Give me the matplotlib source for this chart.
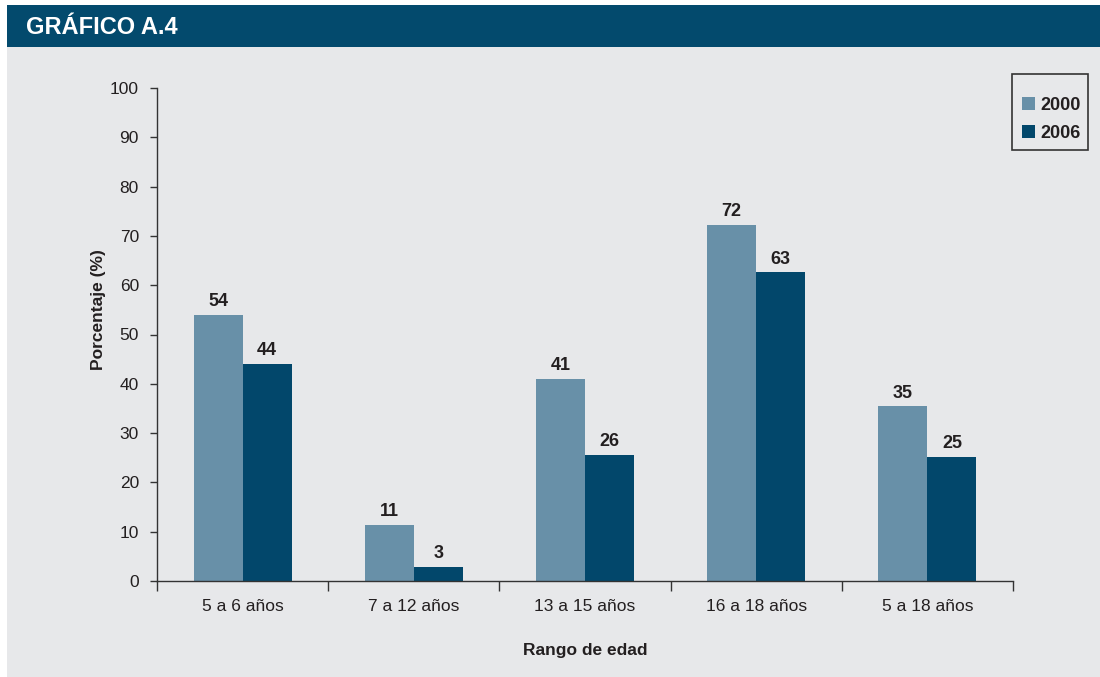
import matplotlib
matplotlib.use("Agg")
import matplotlib.pyplot as plt
from matplotlib.patches import Rectangle, Patch
import numpy as np

plt.rcParams['font.family'] = ['Liberation Sans', 'DejaVu Sans']

categories = ["5 a 6 años", "7 a 12 años", "13 a 15 años", "16 a 18 años", "5 a 18 años"]
series_names = ["2000", "2006"]
values_2000 = [54, 11.3, 41, 72.2, 35.4]
values_2006 = [44, 2.8, 25.6, 62.6, 25.1]
labels_2000 = ["54", "11", "41", "72", "35"]
labels_2006 = ["44", "3", "26", "63", "25"]
yticks = [0, 10, 20, 30, 40, 50, 60, 70, 80, 90, 100]

c2000 = "#6890a8"
c2006 = "#02476b"
bg = "#e7e8ea"
bar_title = "#034a6d"
txt = "#231f20"

W, H = 1100, 677
fig = plt.figure(figsize=(11, 6.77), dpi=100)
fig.patch.set_facecolor("white")

# gray panel and title bar
fig.add_artist(Rectangle((7 / W, 0 / H), (W - 7) / W, (677 - 47) / H,
                         transform=fig.transFigure, facecolor=bg, edgecolor="none", zorder=0))
fig.add_artist(Rectangle((7 / W, (677 - 47) / H), (W - 7) / W, 42 / H,
                         transform=fig.transFigure, facecolor=bar_title, edgecolor="none", zorder=0))
fig.text(26 / W, 1 - 27 / H, "GRÁFICO A.4", color="white", fontsize=17, fontweight="bold",
         va="center", ha="left")

ax = fig.add_axes([157 / W, (677 - 581) / H, 856 / W, 493 / H])
ax.set_facecolor("none")

x = np.arange(len(categories))
w = 0.286
b1 = ax.bar(x - w / 2, values_2000, w, color=c2000, label=series_names[0], zorder=2)
b2 = ax.bar(x + w / 2, values_2006, w, color=c2006, label=series_names[1], zorder=2)

for bars, labs in ((b1, labels_2000), (b2, labels_2006)):
    for rect, lab in zip(bars, labs):
        ax.annotate(lab, (rect.get_x() + rect.get_width() / 2, rect.get_height()),
                    xytext=(0, 3.5), textcoords="offset points", ha="center", va="bottom",
                    fontsize=13, fontweight="bold", color=txt)

ax.set_xlim(-0.5, len(categories) - 0.5)
ax.set_ylim(0, 100)
ax.set_yticks(yticks)
ax.set_yticklabels([str(t) for t in yticks], fontsize=12.5, color=txt)

ax.set_xticks(x)
ax.set_xticklabels(categories, fontsize=12.5, color=txt)
ax.tick_params(axis="x", which="major", length=0, pad=13)
ax.set_xticks(np.arange(len(categories) + 1) - 0.5, minor=True)
ax.tick_params(axis="x", which="minor", length=7, width=1, color="#333333", direction="out")
ax.tick_params(axis="y", length=5, width=1, color="#333333", direction="out", pad=8)

for s in ["top", "right"]:
    ax.spines[s].set_visible(False)
for s in ["left", "bottom"]:
    ax.spines[s].set_color("#333333")
    ax.spines[s].set_linewidth(1)
ax.spines["left"].set_bounds(0, 100)

fig.text(585 / W, 1 - 650 / H, "Rango de edad", fontsize=12.5, fontweight="bold", color=txt,
         ha="center", va="center")
fig.text(98 / W, 1 - 310 / H, "Porcentaje (%)", fontsize=12.5, fontweight="bold", color=txt,
         ha="center", va="center", rotation=90)

# legend frame box
fig.add_artist(Rectangle((1012 / W, 1 - 150 / H), 76 / W, 76 / H, transform=fig.transFigure,
                         facecolor="none", edgecolor="#333333", linewidth=1.2, zorder=3))
handles = [Patch(facecolor=c2000, edgecolor="none"), Patch(facecolor=c2006, edgecolor="none")]
leg = fig.legend(handles, series_names, loc="upper left",
                 bbox_to_anchor=(1022 / W, 1 - 97 / H),
                 frameon=False,
                 prop={"weight": "bold", "size": 13},
                 handlelength=0.7, handleheight=0.7, handletextpad=0.3,
                 borderpad=0, borderaxespad=0, labelspacing=0.6)
for t in leg.get_texts():
    t.set_color(txt)

fig.savefig("out.png", dpi=100, facecolor=fig.get_facecolor())
